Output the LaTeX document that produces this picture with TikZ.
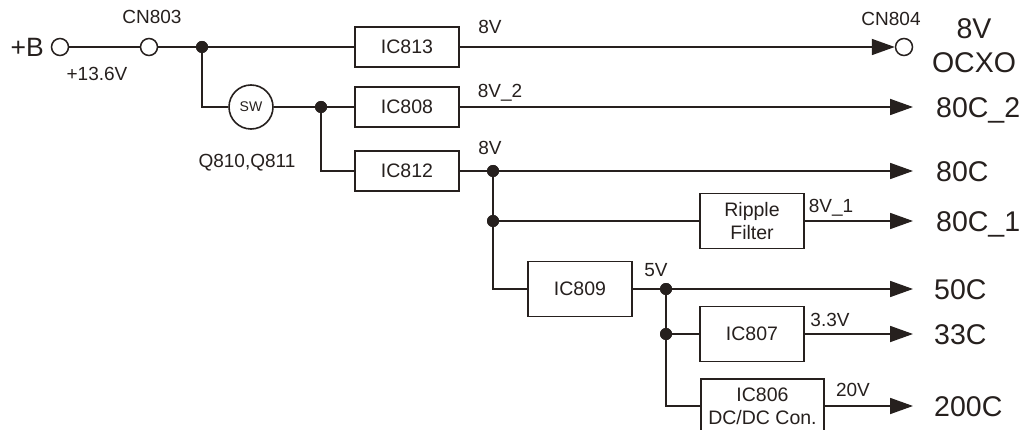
\documentclass[tikz,border=0pt]{standalone}
\usepackage{fontspec}
\setmainfont{Liberation Sans}
\usetikzlibrary{arrows.meta}
\definecolor{ink}{RGB}{38,32,30}
\begin{document}
\begin{tikzpicture}[x=1pt,y=-1pt,
  every node/.style={text=ink},
  wire/.style={draw=ink,line width=1.8pt},
  arr/.style={wire,-{Triangle[length=23pt,width=16pt]}},
  term/.style={circle,draw=ink,line width=1.5pt,fill=white,minimum size=17pt,inner sep=0pt},
  dot/.style={circle,fill=ink,minimum size=12pt,inner sep=0pt},
  blk/.style={draw=ink,line width=1.6pt,fill=white,minimum width=104pt,minimum height=40pt,inner sep=0pt,align=center,font=\fontsize{19.5}{23}\selectfont},
  tallblk/.style={blk,minimum height=55pt},
  lbl/.style={inner sep=0pt,anchor=base,font=\fontsize{19}{20}\selectfont},
  outlbl/.style={inner sep=0pt,anchor=base west,font=\fontsize{28.5}{30}\selectfont}
]
\clip (0,0) rectangle (1024,430);
\fill[white] (0,0) rectangle (1024,430);

% terminals and junctions
\node[inner sep=0pt,anchor=east,font=\fontsize{26.5}{28}\selectfont] (plusB) at (44,47) {+B};
\node[term] (t1) at (60,47) {};
\node[term] (cn803) at (149,47) {};
\node[dot] (j1) at (202,47) {};
\node[circle,draw=ink,line width=1.6pt,minimum size=44pt,inner sep=0pt,font=\fontsize{14}{14}\selectfont] (sw) at (251,107) {SW};
\node[dot] (j2) at (321,107) {};
\node[dot] (j3) at (493,171) {};
\node[dot] (j4) at (493,221) {};
\node[dot] (j5) at (666,289) {};
\node[dot] (j6) at (666,334) {};
\node[term] (cn804) at (904,47) {};

% blocks
\node[blk] (ic813) at (407,47) {IC813};
\node[blk] (ic808) at (407,107) {IC808};
\node[blk] (ic812) at (407,171) {IC812};
\node[tallblk] (rip) at (752,221) {Ripple\\Filter};
\node[tallblk] (ic809) at (580,289) {IC809};
\node[tallblk] (ic807) at (752,334) {IC807};
\node[tallblk,minimum width=123pt,minimum height=54pt] (ic806) at (762.5,406) {IC806\\DC/DC Con.};

% output end points
\coordinate (e2) at (913,107);
\coordinate (e3) at (913,171);
\coordinate (e4) at (913,221);
\coordinate (e5) at (913,289);
\coordinate (e6) at (913,334);
\coordinate (e7) at (913,406);

% wires
\draw[wire] (t1.east) -- (cn803.west);
\draw[wire] (cn803.east) -- (j1) -- (ic813.west);
\draw[arr] (ic813.east) -- (cn804.west);
\draw[wire] (j1) |- (sw.west);
\draw[wire] (sw.east) -- (j2) -- (ic808.west);
\draw[wire] (j2) |- (ic812.west);
\draw[arr] (ic808.east) -- (e2);
\draw[wire] (ic812.east) -- (j3);
\draw[arr] (j3) -- (e3);
\draw[wire] (j3) -- (j4) -- (rip.west);
\draw[arr] (rip.east) -- (e4);
\draw[wire] (j4) |- (ic809.west);
\draw[wire] (ic809.east) -- (j5);
\draw[arr] (j5) -- (e5);
\draw[wire] (j5) -- (j6) -- (ic807.west);
\draw[arr] (ic807.east) -- (e6);
\draw[wire] (j6) |- (ic806.west);
\draw[arr] (ic806.east) -- (e7);

% redraw dots on top
\foreach \j in {j1,j2,j3,j4,j5,j6} \fill[ink] (\j) circle (6pt);

% small labels
\node[lbl] (lcn803) at (152,23.8) {CN803};
\node[lbl] (l136) at (97,80.8) {+13.6V};
\node[lbl] (lq) at (247,167.8) {Q810,Q811};
\node[lbl] (l8va) at (490,33.8) {8V};
\node[lbl] (l8v2) at (500,97.8) {8V\_2};
\node[lbl] (l8vb) at (490,154.8) {8V};
\node[lbl] (lcn804) at (891,25.8) {CN804};
\node[lbl] (l8v1) at (831,212.8) {8V\_1};
\node[lbl] (l5v) at (656,276.8) {5V};
\node[lbl] (l33v) at (830,326.8) {3.3V};
\node[lbl] (l20v) at (853,396.8) {20V};

% output labels
\node[inner sep=0pt,anchor=base,font=\fontsize{28.5}{34}\selectfont] (locxo) at (974,38.2) {8V};
\node[inner sep=0pt,anchor=base,font=\fontsize{28.5}{34}\selectfont] (locxo2) at (974,72.2) {OCXO};
\node[outlbl] (o2) at (936,117.2) {80C\_2};
\node[outlbl] (o3) at (936,181.2) {80C};
\node[outlbl] (o4) at (936,231.2) {80C\_1};
\node[outlbl] (o5) at (934,299.2) {50C};
\node[outlbl] (o6) at (934,344.2) {33C};
\node[outlbl] (o7) at (934,416.2) {200C};
\end{tikzpicture}
\end{document}
